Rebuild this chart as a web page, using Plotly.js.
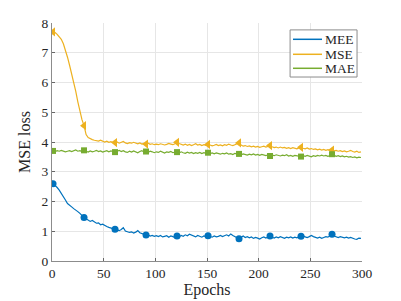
<!DOCTYPE html>
<html>
<head>
<meta charset="utf-8">
<script src="https://cdn.plot.ly/plotly-3.0.1.min.js"></script>
<style>html,body{margin:0;padding:0;background:#fff;}#chart{width:401px;height:301px;}</style>
</head>
<body>
<div id="chart"></div>
<script>
// Epochs sampled every 2 (1, 3, 5, ..., 299)
const epochs = [];
for (let e = 1; e <= 299; e += 2) epochs.push(e);

const seriesNames = ["MEE", "MSE", "MAE"];

const mee = [
  2.60,2.55,2.47,2.38,2.28,2.18,2.05,1.93,1.86,1.82,
  1.76,1.72,1.66,1.60,1.52,1.46,1.42,1.38,1.33,1.36,
  1.30,1.27,1.28,1.22,1.24,1.19,1.16,1.13,1.11,1.09,
  1.07,1.04,1.02,1.06,1.12,1.01,0.99,0.96,0.98,0.94,
  0.97,1.02,0.95,0.92,0.89,0.87,0.88,0.84,0.86,0.83,
  0.85,0.82,0.86,0.81,0.83,0.85,0.80,0.84,0.82,0.79,
  0.84,0.81,0.86,0.83,0.88,0.85,0.90,0.87,0.84,0.81,
  0.86,0.83,0.80,0.84,0.82,0.85,0.83,0.80,0.84,0.81,
  0.83,0.86,0.82,0.85,0.88,0.84,0.91,0.86,0.82,0.79,
  0.75,0.80,0.84,0.79,0.82,0.78,0.81,0.76,0.79,0.77,
  0.74,0.78,0.81,0.77,0.80,0.84,0.80,0.77,0.81,0.78,
  0.82,0.79,0.76,0.80,0.78,0.81,0.77,0.80,0.78,0.81,
  0.83,0.85,0.81,0.79,0.82,0.86,0.82,0.79,0.77,0.80,
  0.76,0.79,0.82,0.80,0.86,0.90,0.84,0.81,0.79,0.82,
  0.80,0.78,0.80,0.77,0.79,0.76,0.74,0.73,0.77,0.76
];

const mse = [
  7.70,7.68,7.62,7.55,7.45,7.30,7.10,6.85,6.58,6.30,
  6.02,5.70,5.35,5.00,4.75,4.55,4.25,4.15,4.10,4.08,
  4.06,4.05,4.03,4.06,4.02,4.00,4.03,3.99,4.01,3.98,
  3.98,4.00,3.96,3.99,4.02,3.97,3.95,3.98,3.96,3.99,
  3.96,3.94,3.97,3.93,3.95,3.93,3.96,3.92,3.94,3.91,
  3.93,3.91,3.94,3.92,3.90,3.92,3.95,3.93,3.91,3.94,
  3.99,3.95,3.92,3.90,3.93,3.89,3.92,3.88,3.91,3.94,
  3.90,3.92,3.88,3.91,3.89,3.92,3.90,3.87,3.89,3.92,
  3.88,3.90,3.87,3.91,3.89,3.93,3.90,3.88,3.91,3.95,
  3.97,3.90,3.86,3.88,3.85,3.87,3.84,3.86,3.83,3.85,
  3.82,3.84,3.86,3.83,3.85,3.88,3.84,3.81,3.83,3.80,
  3.83,3.80,3.82,3.79,3.81,3.78,3.81,3.79,3.77,3.80,
  3.82,3.79,3.77,3.80,3.76,3.78,3.75,3.77,3.74,3.76,
  3.73,3.75,3.72,3.74,3.71,3.73,3.70,3.72,3.69,3.71,
  3.68,3.70,3.67,3.69,3.72,3.68,3.66,3.69,3.65,3.67
];

const mae = [
  3.70,3.68,3.71,3.69,3.72,3.70,3.67,3.69,3.71,3.68,
  3.70,3.73,3.69,3.71,3.68,3.72,3.69,3.66,3.70,3.67,
  3.69,3.72,3.68,3.70,3.66,3.69,3.71,3.67,3.70,3.68,
  3.66,3.69,3.72,3.68,3.71,3.67,3.65,3.69,3.66,3.70,
  3.67,3.64,3.68,3.71,3.66,3.68,3.65,3.69,3.67,3.64,
  3.67,3.65,3.69,3.66,3.63,3.67,3.65,3.68,3.64,3.66,
  3.66,3.63,3.67,3.64,3.62,3.66,3.63,3.65,3.61,3.64,
  3.62,3.65,3.61,3.64,3.62,3.64,3.61,3.63,3.60,3.63,
  3.61,3.59,3.62,3.60,3.63,3.59,3.61,3.58,3.62,3.60,
  3.60,3.57,3.60,3.58,3.56,3.59,3.57,3.60,3.56,3.58,
  3.55,3.58,3.56,3.54,3.57,3.53,3.56,3.54,3.57,3.55,
  3.53,3.56,3.54,3.57,3.53,3.55,3.52,3.55,3.53,3.51,
  3.51,3.54,3.52,3.55,3.53,3.50,3.54,3.52,3.55,3.53,
  3.56,3.53,3.55,3.52,3.54,3.59,3.55,3.52,3.54,3.51,
  3.53,3.50,3.52,3.49,3.51,3.48,3.50,3.47,3.49,3.48
];

const xTicks = [0, 50, 100, 150, 200, 250, 300];
const yTicks = [0, 1, 2, 3, 4, 5, 6, 7, 8];

const colors = ["#0072BD", "#EDB120", "#77AC30"];
const symbols = ["circle", "triangle-left", "square"];
const markerSizes = [7, 8, 6];
const markerEvery = 15; // every 30 epochs

const values = [mee, mse, mae];
const traces = [];
values.forEach((ys, k) => {
  traces.push({
    x: epochs, y: ys, type: "scatter", mode: "lines", name: seriesNames[k],
    line: {color: colors[k], width: 1.2}, showlegend: false, hoverinfo: "skip"
  });
});
values.forEach((ys, k) => {
  const mx = [], my = [];
  for (let i = 0; i < ys.length; i += markerEvery) { mx.push(epochs[i]); my.push(ys[i]); }
  traces.push({
    x: mx, y: my, type: "scatter", mode: "markers", showlegend: false, name: seriesNames[k],
    marker: {color: colors[k], symbol: symbols[k], size: markerSizes[k]}, hoverinfo: "skip"
  });
});

const font = "Liberation Serif";
const textColor = "#262626";

// Compact MATLAB-style legend (box, line samples, labels) in paper coordinates
const legBox = {x0: 0.768, x1: 0.984, y0: 0.773, y1: 0.971};
const legRowsY = [0.9315, 0.8685, 0.8097];
const legLineX = [0.7774, 0.871];
const legTextX = 0.874;
const shapes = [{
  type: "rect", xref: "paper", yref: "paper",
  x0: legBox.x0, x1: legBox.x1, y0: legBox.y0, y1: legBox.y1,
  line: {color: "#8c8c8c", width: 1}, fillcolor: "#fff", layer: "above"
}];
const annotations = [];
seriesNames.forEach((nm, k) => {
  shapes.push({
    type: "line", xref: "paper", yref: "paper",
    x0: legLineX[0], x1: legLineX[1], y0: legRowsY[k], y1: legRowsY[k],
    line: {color: colors[k], width: 1.5}, layer: "above"
  });
  annotations.push({
    xref: "paper", yref: "paper", x: legTextX, y: legRowsY[k],
    xanchor: "left", yanchor: "middle", showarrow: false, text: nm,
    font: {family: font, size: 13.5, color: textColor}
  });
});

const layout = {
  width: 401, height: 301,
  margin: {l: 52, r: 39, t: 23, b: 40},
  paper_bgcolor: "#fff", plot_bgcolor: "#fff",
  font: {family: font, size: 13.5, color: textColor},
  showlegend: false,
  shapes: shapes,
  annotations: annotations,
  xaxis: {
    range: [0, 300], tickvals: xTicks, ticktext: xTicks.map(String),
    tickfont: {family: font, size: 13.5, color: textColor},
    showgrid: true, gridcolor: "#e6e6e6", zeroline: false,
    showline: true, linecolor: "#8c8c8c", linewidth: 1,
    ticks: "inside", ticklen: 3, tickcolor: "#666",
    title: {text: "Epochs", font: {family: font, size: 16, color: textColor}, standoff: 3}
  },
  yaxis: {
    range: [0, 8], tickvals: yTicks, ticktext: yTicks.map(String),
    tickfont: {family: font, size: 13.5, color: textColor},
    showgrid: true, gridcolor: "#e6e6e6", zeroline: false,
    showline: true, linecolor: "#8c8c8c", linewidth: 1,
    ticks: "inside", ticklen: 3, tickcolor: "#666",
    title: {text: "MSE loss", font: {family: font, size: 16, color: textColor}, standoff: 6}
  }
};

Plotly.newPlot("chart", traces, layout, {staticPlot: true, displayModeBar: false});
</script>
</body>
</html>
